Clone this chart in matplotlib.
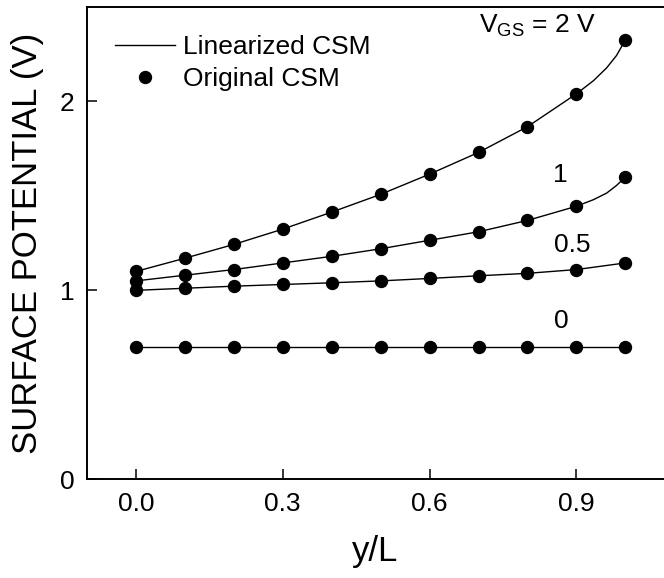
import matplotlib
matplotlib.use("Agg")
import matplotlib.pyplot as plt
from matplotlib.lines import Line2D

plt.rcParams["font.family"] = ["Liberation Sans", "DejaVu Sans"]
plt.rcParams["mathtext.fontset"] = "custom"
plt.rcParams["mathtext.rm"] = "Liberation Sans"

# sample positions along the channel
y_over_l = [0.0, 0.1, 0.2, 0.3, 0.4, 0.5, 0.6, 0.7, 0.8, 0.9, 1.0]

# original CSM surface potential (V) for each gate voltage
psi_vgs0 = [0.70, 0.70, 0.70, 0.70, 0.70, 0.70, 0.70, 0.70, 0.70, 0.70, 0.70]
psi_vgs05 = [1.00, 1.011, 1.022, 1.031, 1.040, 1.050, 1.063, 1.077, 1.090, 1.110, 1.145]
psi_vgs1 = [1.05, 1.08, 1.11, 1.145, 1.18, 1.22, 1.265, 1.31, 1.37, 1.445, 1.60]
psi_vgs2 = [1.10, 1.17, 1.243, 1.324, 1.414, 1.508, 1.615, 1.73, 1.866, 2.04, 2.325]

# linearized CSM, with extra samples where it bends near the drain
y_over_l_fine = [0.0, 0.1, 0.2, 0.3, 0.4, 0.5, 0.6, 0.7, 0.8, 0.9, 0.935, 0.962, 0.982, 1.0]
lin_vgs1 = [1.05, 1.08, 1.11, 1.145, 1.18, 1.22, 1.265, 1.31, 1.37, 1.445, 1.48, 1.515, 1.555, 1.60]
lin_vgs2 = [1.10, 1.17, 1.243, 1.324, 1.414, 1.508, 1.615, 1.73, 1.866, 2.04, 2.11, 2.178, 2.243, 2.325]

curve_labels = ["0", "0.5", "1", "V$_{\\mathrm{GS}}$ = 2 V"]
label_pos = [(0.854, 0.80), (0.854, 1.203), (0.852, 1.573), (0.70, 2.367)]

fig = plt.figure(figsize=(6.64, 5.78), dpi=100)
ax = fig.add_axes([0.131, 0.1708, 0.869, 0.8172])

ax.plot(y_over_l, psi_vgs0, color="black", lw=1.0)
ax.plot(y_over_l, psi_vgs05, color="black", lw=1.0)
ax.plot(y_over_l_fine, lin_vgs1, color="black", lw=1.0)
ax.plot(y_over_l_fine, lin_vgs2, color="black", lw=1.0)

for psi in (psi_vgs0, psi_vgs05, psi_vgs1, psi_vgs2):
    ax.plot(y_over_l, psi, "o", color="black", ms=8.6, mec="black", lw=0)

for txt, (x, y) in zip(curve_labels, label_pos):
    ax.text(x, y, txt, fontsize=19, ha="left", va="baseline")

ax.set_xlim(-0.1, 1.079)
ax.set_ylim(0, 2.5)
ax.set_xticks([0.0, 0.3, 0.6, 0.9])
ax.set_xticklabels(["0.0", "0.3", "0.6", "0.9"])
ax.set_yticks([0, 1, 2])
ax.tick_params(direction="in", length=7, width=1.1, labelsize=19, pad=9)
ax.spines["right"].set_visible(False)
for side in ("left", "top", "bottom"):
    ax.spines[side].set_linewidth(1.4)

ax.set_xlabel("y/L", fontsize=25, labelpad=14)
ax.set_ylabel("SURFACE POTENTIAL (V)", fontsize=25, labelpad=11)

handles = [
    Line2D([], [], color="black", lw=1.0),
    Line2D([], [], color="black", marker="o", ms=8.6, lw=0),
]
ax.legend(handles, ["Linearized CSM", "Original CSM"], loc="upper left",
          bbox_to_anchor=(0.031, 0.962), frameon=False, fontsize=19,
          handlelength=2.27, handletextpad=0.3, labelspacing=0.3,
          borderaxespad=0.0)

fig.savefig("out.png", dpi=100)
